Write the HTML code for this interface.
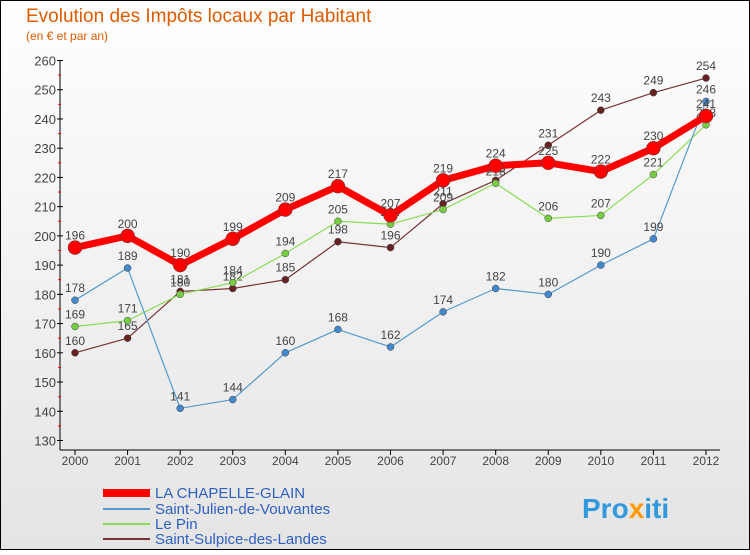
<!DOCTYPE html>
<html><head><meta charset="utf-8"><style>
body{margin:0}
#c{width:750px;height:550px;position:relative;font-family:"Liberation Sans",sans-serif}
</style></head><body>
<div id="c">
<svg id="s" width="750" height="550" xmlns="http://www.w3.org/2000/svg">
<defs><linearGradient id="bg" x1="0" y1="0" x2="0" y2="1"><stop offset="0" stop-color="#ffffff"/><stop offset="1" stop-color="#e4e4e4"/></linearGradient></defs>
<rect x="0.5" y="0.5" width="749" height="549" fill="url(#bg)" stroke="#000"/>
<text x="26" y="22" font-size="19" fill="#e05a00">Evolution des Impôts locaux par Habitant</text>
<text x="26" y="40" font-size="12" fill="#e05a00">(en € et par an)</text>
<g id="axes"></g><g id="series"></g>
<g font-size="15" fill="#3060c0">
<line x1="103" y1="493" x2="150" y2="493" stroke="#ff0000" stroke-width="8"/>
<text x="155" y="498">LA CHAPELLE-GLAIN</text>
<line x1="103" y1="509" x2="150" y2="509" stroke="#5599cc" stroke-width="2"/>
<text x="155" y="514">Saint-Julien-de-Vouvantes</text>
<line x1="103" y1="524" x2="150" y2="524" stroke="#88dd55" stroke-width="2"/>
<text x="155" y="529">Le Pin</text>
<line x1="103" y1="539" x2="150" y2="539" stroke="#773333" stroke-width="2"/>
<text x="155" y="544">Saint-Sulpice-des-Landes</text>
</g>
<text x="582" y="518" font-size="28" font-weight="bold" fill="#3399dd">Pro<tspan fill="#ff9900">x</tspan>iti</text>
</svg></div>
<script>
const years=[2000,2001,2002,2003,2004,2005,2006,2007,2008,2009,2010,2011,2012];
const chapelle=[196,200,190,199,209,217,207,219,224,225,222,230,241];
const julien=[178,189,141,144,160,168,162,174,182,180,190,199,246];
const pin=[169,171,180,184,194,205,204,209,218,206,207,221,238];
const sulpice=[160,165,181,182,185,198,196,211,219,231,243,249,254];
const yTicks=[130,140,150,160,170,180,190,200,210,220,230,240,250,260];
const NS="http://www.w3.org/2000/svg";
const X=i=>75+i*(706-75)/12, Y=v=>60.5+(260-v)*2.923;
function mk(t,a,p){const e=document.createElementNS(NS,t);for(const k in a)e.setAttribute(k,a[k]);p.appendChild(e);return e;}
const ax=document.getElementById('axes');
mk('line',{x1:60,y1:60,x2:60,y2:450,stroke:'#000'},ax);
mk('line',{x1:60,y1:450,x2:720,y2:450,stroke:'#000'},ax);
yTicks.forEach(v=>{
 mk('line',{x1:57,y1:Y(v),x2:63,y2:Y(v),stroke:'#000'},ax);
 if(v<260){mk('line',{x1:58,y1:Y(v+5),x2:61,y2:Y(v+5),stroke:'#f00'},ax);}
 const t=mk('text',{x:56,y:Y(v)+5,'text-anchor':'end','font-size':13,fill:'#444'},ax);t.textContent=v;
 
});
years.forEach((y,i)=>{
 mk('line',{x1:X(i),y1:450,x2:X(i),y2:455,stroke:'#000'},ax);
 const t=mk('text',{x:X(i),y:465,'text-anchor':'middle','font-size':12,fill:'#444'},ax);t.textContent=y;
 
});
const sg=document.getElementById('series');
function draw(data,col,w,r,name,dot){
 const g=mk('g',{},sg);
 mk('polyline',{points:data.map((v,i)=>X(i)+','+Y(v)).join(' '),fill:'none',stroke:col,'stroke-width':w,'stroke-linejoin':'round'},g);
 data.forEach((v,i)=>{
  const c=mk('circle',{cx:X(i),cy:Y(v),r:r,fill:dot,stroke:'#444','stroke-width':0.5},g);
  
  const t=mk('text',{x:X(i),y:Y(v)-8,'text-anchor':'middle','font-size':12,fill:'#444'},g);t.textContent=v;
 });
}
draw(sulpice,'#773333',1.2,3.5,'series-sulpice','#662222');
draw(pin,'#88dd55',1.2,3.5,'series-pin','#77cc44');
draw(julien,'#5599cc',1.2,3.5,'series-julien','#4488cc');
draw(chapelle,'#ff0000',7,7,'series-chapelle','#ff0000');
</script>
</body></html>
